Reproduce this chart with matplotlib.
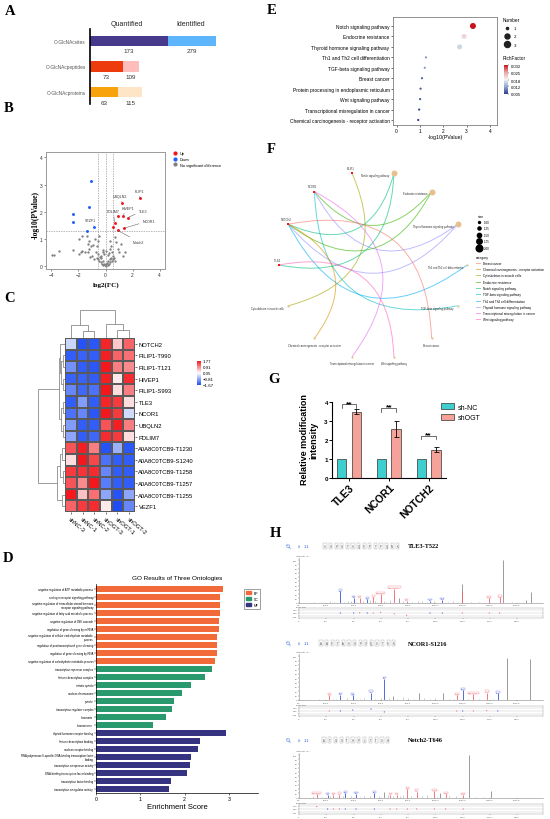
import numpy as np
import matplotlib.pyplot as plt
from matplotlib.colors import LinearSegmentedColormap, Normalize
from matplotlib.cm import ScalarMappable
from matplotlib.lines import Line2D
from matplotlib.patches import Patch, PathPatch
from matplotlib.path import Path
from matplotlib.ticker import FuncFormatter

plt.rcParams['font.family'] = ['Liberation Sans', 'DejaVu Sans']
plt.rcParams['axes.linewidth'] = 0.5
SERIF = ['Liberation Serif', 'DejaVu Serif']

W, H = 550, 820
fig = plt.figure(figsize=(W / 100, H / 100), dpi=100)


def ax_px(x0, y0, x1, y1):
    # axes from pixel box (top-left origin)
    return fig.add_axes([x0 / W, 1 - y1 / H, (x1 - x0) / W, (y1 - y0) / H])


def fx(x):
    return x / W


def fy(y):
    return 1 - y / H


# ---------------- data ----------------
# A
a_cats = ['O-GlcNAcsites', 'O-GlcNAcpeptides', 'O-GlcNAcproteins']
a_quant = [173, 73, 63]
a_ident = [279, 109, 115]

# B volcano
b_up_x = [2.54, 1.23, 0.94, 1.26, 1.63, 0.67, 0.57, 1.38, 0.89]
b_up_y = [2.52, 2.32, 1.83, 1.86, 1.79, 1.58, 1.43, 1.40, 1.32]
b_down_x = [-1.09, -1.21, -2.37, -2.42, -0.86, -1.38]
b_down_y = [3.14, 2.19, 1.92, 1.64, 1.45, 1.30]
b_ns_x = [-3.95, -3.78, -3.46, -2.37, -1.98, -1.73, -1.38, -1.93, -1.80, -1.48,
          -1.19, -1.04, -1.14, -0.99, -0.84, -0.69, -0.54, -0.64, -0.57, -0.49,
          -0.32, -0.20, 0.30, 0.42, 0.47, 0.54, 0.67, 0.79, 0.91, 0.99,
          1.16, 1.33, 1.41, -0.94, -1.31, -1.23, -0.81, -1.73, -1.31,
          -0.45, -0.35, -0.25, -0.15, -0.05, 0.05, 0.15, 0.25, 0.35, 0.45,
          0.55, -0.55, 0.10, -0.10, 0.20, -0.20, 0.30, -0.30, 0.00, 0.40,
          -0.40, 0.60, 0.70, -0.65, -0.10, 0.05, 0.15, 0.25, -0.20, 0.30]
b_ns_y = [0.43, 0.43, 0.57, 0.58, 1.00, 1.12, 1.12, 0.45, 0.51, 0.51,
          0.63, 0.73, 0.33, 0.39, 0.27, 0.51, 0.45, 0.75, 0.94, 1.12,
          0.39, 0.51, 0.94, 0.75, 0.51, 0.39, 1.06, 0.88, 0.63, 0.51,
          0.82, 0.39, 0.51, 0.80, 0.81, 0.94, 1.00, 0.57, 0.51,
          0.20, 0.15, 0.10, 0.06, 0.03, 0.02, 0.05, 0.09, 0.14, 0.20,
          0.25, 0.25, 0.12, 0.10, 0.18, 0.20, 0.28, 0.30, 0.08, 0.32,
          0.35, 0.30, 0.20, 0.30, 0.45, 0.55, 0.40, 0.50, 0.60, 0.65]
b_labels = ['FLIP1', 'UBQLN2', 'HIVEP1', 'PDLIM7', 'TLE3', 'NCOR1', 'Notch2', 'VEZF1']
b_lab_pt = [(2.54, 2.52), (1.23, 2.32), (1.26, 1.86), (0.67, 1.58),
            (1.63, 1.79), (1.38, 1.40), (0.89, 1.32), (-0.86, 1.45)]
b_lab_txt = [(2.53, 2.77), (1.09, 2.59), (1.68, 2.14), (0.59, 2.03),
             (2.77, 2.03), (3.19, 1.67), (2.47, 0.90), (-1.13, 1.70)]

# C heatmap
c_rows = ['NOTCH2', 'FILIP1-T990', 'FILIP1-T121', 'HIVEP1', 'FILIP1-S993', 'TLE3',
          'NCOR1', 'UBQLN2', 'PDLIM7', 'A0A8C0TCB9-T1230', 'A0A8C0TCB9-S1240',
          'A0A8C0TCB9-T1258', 'A0A8C0TCB9-T1257', 'A0A8C0TCB9-T1255', 'VEZF1']
c_cols = ['shNC-3', 'shNC-1', 'shNC-2', 'shOGT-3', 'shOGT-1', 'shOGT-2']
c_vals = np.array([
    [-0.35, -1.60, -1.55, 1.65, 0.45, 1.20],
    [-1.50, -1.45, -1.50, 1.70, 1.20, 1.10],
    [-1.00, -1.50, -1.55, 1.75, 1.00, 0.90],
    [-1.45, -1.45, -1.50, 1.70, 0.20, 1.60],
    [-1.10, -1.40, -1.30, 1.77, 0.30, 1.00],
    [-1.50, -0.90, -1.50, 1.65, 1.50, 0.30],
    [-1.30, -1.10, -1.55, 1.75, 1.50, -0.30],
    [-0.90, -1.50, -1.50, 1.30, 1.70, 1.00],
    [-0.80, -1.50, -1.40, 1.60, 1.50, 0.30],
    [1.30, 1.70, 1.00, -1.60, -0.70, -1.55],
    [0.30, 1.75, 1.40, -1.30, -1.50, -1.50],
    [1.50, 1.55, 1.60, -1.10, -1.50, -1.50],
    [1.30, 0.90, 1.75, -1.20, -1.50, -1.50],
    [1.75, 0.50, 1.10, -0.80, -1.60, -0.80],
    [1.20, 1.50, 1.60, 0.20, -1.65, -1.10]])
# linkage: (a, b, height), new ids follow leaves
c_row_link = [(1, 2, 0.35), (3, 4, 0.45), (15, 16, 0.65), (0, 17, 0.95),
              (5, 6, 0.30), (7, 8, 0.45), (19, 20, 0.70), (18, 21, 1.20),
              (11, 12, 0.45), (9, 10, 0.60), (24, 23, 0.90), (13, 14, 0.55),
              (25, 26, 1.45), (22, 27, 5.0)]
c_col_link = [(1, 2, 0.8), (0, 6, 1.35), (4, 5, 0.9), (3, 8, 1.45), (7, 9, 3.0)]

# D GO
go_terms = ['negative regulation of ATP metabolic process',
            'androgen receptor signaling pathway',
            'negative regulation of intracellular steroid hormone\nreceptor signaling pathway',
            'negative regulation of fatty acid metabolic process',
            'negative regulation of JNK cascade',
            'regulation of gene silencing by miRNA',
            'negative regulation of cellular carbohydrate metabolic\nprocess',
            'regulation of posttranscriptional gene silencing',
            'regulation of gene silencing by RNA',
            'negative regulation of carbohydrate metabolic process',
            'transcription repressor complex',
            'histone deacetylase complex',
            'mitotic spindle',
            'nuclear chromosome',
            'spindle',
            'transcription regulator complex',
            'chromatin',
            'chromosome',
            'thyroid hormone receptor binding',
            'histone deacetylase binding',
            'nuclear receptor binding',
            'RNA polymerase II-specific DNA-binding transcription factor\nbinding',
            'transcription corepressor activity',
            'DNA-binding transcription factor binding',
            'transcription factor binding',
            'transcription coregulator activity']
go_scores = [2.87, 2.80, 2.80, 2.80, 2.77, 2.77, 2.74, 2.74, 2.74, 2.69,
             2.63, 2.47, 2.14, 1.95, 1.77, 1.71, 1.59, 1.29,
             2.93, 2.36, 2.31, 2.15, 2.12, 2.05, 1.70, 1.65]
go_groups = ['BP'] * 10 + ['CC'] * 8 + ['MF'] * 8

# E KEGG dots
e_terms = ['Notch signaling pathway', 'Endocrine resistance',
           'Thyroid hormone signaling pathway', 'Th1 and Th2 cell differentiation',
           'TGF-beta signaling pathway', 'Breast cancer',
           'Protein processing in endoplasmic reticulum', 'Wnt signaling pathway',
           'Transcriptional misregulation in cancer',
           'Chemical carcinogenesis - receptor activation']
e_logp = [3.27, 2.89, 2.70, 1.26, 1.21, 1.09, 1.03, 1.01, 0.97, 0.93]
e_number = [3, 2, 2, 1, 1, 1, 1, 1, 1, 1]
e_rich = [0.032, 0.021, 0.016, 0.011, 0.011, 0.0075, 0.0065, 0.0065, 0.0055, 0.005]

# F network
f_nodes = ['Th1 and Th2 cell differentiation', 'Thyroid hormone signaling pathway',
           'Endocrine resistance', 'Notch signaling pathway', 'FILIP1', 'NCOR1',
           'NOTCH2', 'TLE3', 'Cytoskeleton in muscle cells',
           'Chemical carcinogenesis - receptor activation',
           'Transcriptional misregulation in cancer', 'Wnt signaling pathway',
           'Breast cancer', 'TGF-beta signaling pathway']
f_genes = ['FILIP1', 'NCOR1', 'NOTCH2', 'TLE3']
f_edges = [('FILIP1', 'Cytoskeleton in muscle cells'),
           ('NCOR1', 'Endocrine resistance'),
           ('NCOR1', 'Thyroid hormone signaling pathway'),
           ('NCOR1', 'TGF-beta signaling pathway'),
           ('NCOR1', 'Transcriptional misregulation in cancer'),
           ('NOTCH2', 'Notch signaling pathway'),
           ('NOTCH2', 'Endocrine resistance'),
           ('NOTCH2', 'Thyroid hormone signaling pathway'),
           ('NOTCH2', 'Th1 and Th2 cell differentiation'),
           ('NOTCH2', 'Breast cancer'),
           ('NOTCH2', 'Chemical carcinogenesis - receptor activation'),
           ('TLE3', 'Notch signaling pathway'),
           ('TLE3', 'Wnt signaling pathway')]
f_categories = ['Breast cancer', 'Chemical carcinogenesis - receptor activation',
                'Cytoskeleton in muscle cells', 'Endocrine resistance',
                'Notch signaling pathway', 'TGF-beta signaling pathway',
                'Th1 and Th2 cell differentiation', 'Thyroid hormone signaling pathway',
                'Transcriptional misregulation in cancer', 'Wnt signaling pathway']
f_cat_colors = ['#F8766D', '#D89000', '#A3A500', '#39B600', '#00BF7D',
                '#00BFC4', '#00B0F6', '#9590FF', '#E76BF3', '#FF62BC']
f_size_levels = [1.00, 1.25, 1.50, 1.75, 2.00]

# G bars
g_genes = ['TLE3', 'NCOR1', 'NOTCH2']
g_nc = [1.0, 1.0, 1.0]
g_ogt = [3.49, 2.58, 1.49]
g_ogt_err = [0.13, 0.40, 0.13]
g_sig_y = [3.87, 3.68, 2.23]

# H spectra
h_titles = ['TLE3-T522', 'NCOR1-S1216', 'Notch2-T646']
h_seqs = ['SSPSTSQVPTPQNK', 'AAVTASSPVQSTSK', 'ATGSTHPLTTSH']
h1_mz = [303, 401, 445, 501, 545, 599, 699, 736, 790, 961, 1051, 1194, 1198, 1396, 1472, 1499, 1665, 1704]
h1_int = [26, 11, 11, 8, 12, 20, 33, 11, 4, 4, 6, 43, 26, 10, 12, 100, 6, 25]
h1_kind = ['b', 'b', 'y', 'b', 'y', 'y', 'y', 'n', 'y', 'b', 'b', 'n', 'y', 'y', 'y', 'n', 'n', 'n']
h1_ion = ['b3', 'b4', 'y3', 'b5', 'y4', '[y5-H2O]', '[y12-H2O]2+', '', 'y6', 'b9', 'b10', '', '', 'y12', 'y13', '', '', '']
h1_err = [0.0, 0.0, 0.01, 0.0, 0.0, 0.02, -0.03, np.nan, -0.07, 0.0, 0.0, np.nan, 0.0, 0.0, 0.0, np.nan, np.nan, np.nan]
h1_noise_mz = [110, 160, 230, 260, 330, 360, 380, 420, 470, 520, 560, 620, 640, 670, 760,
               830, 870, 900, 940, 990, 1090, 1130, 1260, 1320, 1560]
h1_noise_int = [2, 1, 3, 2, 2, 4, 3, 2, 3, 5, 3, 4, 2, 6, 3, 2, 3, 4, 2, 3, 2, 3, 2, 2, 1]

h2_mz = [222, 303, 394, 528, 626, 687, 883, 1058, 1157, 1201, 1279, 1377, 1458, 1524, 1695]
h2_int = [11, 12, 11, 17, 48, 8, 15, 15, 11, 22, 13, 17, 15, 96, 93]
h2_kind = ['y', 'b', 'b', 'b', 'b', 'n', 'n', 'n', 'y', 'b', 'y', 'y', 'b', 'n', 'n']
h2_ion = ['y2', 'b3', 'b4', 'b5', 'b6', '', '', '', 'y10', 'b12', '[y11-H2O]', 'y12', 'b14', '', '']
h2_err = [0.0, 0.0, 0.03, 0.06, -0.03, np.nan, np.nan, np.nan, 0.0, 0.0, 0.0, 0.01, 0.0, np.nan, np.nan]
h2_noise_mz = [150, 250, 270, 350, 420, 450, 480, 560, 600, 660, 720, 760, 800, 840, 920,
               960, 1000, 1100, 1140, 1240, 1320, 1420]
h2_noise_int = [2, 3, 2, 4, 3, 2, 4, 3, 5, 4, 3, 6, 4, 3, 5, 2, 4, 3, 2, 3, 2, 2]

h3_mz = [130, 210, 252, 296, 340, 418, 553, 626, 668, 717, 795, 863, 993, 1034, 1076, 1205, 1249, 1408]
h3_int = [8, 6, 6, 7, 10, 9, 10, 12, 6, 6, 20, 14, 15, 10, 8, 6, 100, 15]
h3_kind = ['y', 'b', 'y', 'y', 'b', 'b', 'b', 'n', 'y', 'y', 'y', 'y', 'y', 'n', 'y', 'y', 'n', 'n']
h3_ion = ['[y1-H2O]', 'b2', 'y2', 'y3', 'b3', 'b4', 'b6', '', 'y6', 'y7', 'y8', 'y9', 'y10', '', 'y11', 'y12', '', '']
h3_err = [0.08, 0.0, 0.0, 0.0, 0.0, 0.0, 0.0, np.nan, 0.0, 0.0, 0.0, 0.0, 0.0, np.nan, 0.0, 0.0, np.nan, np.nan]
h3_noise_mz = [100, 170, 230, 280, 320, 380, 450, 480, 520, 590, 650, 690, 740, 760, 820,
               900, 940, 1010, 1100, 1150, 1300, 1360]
h3_noise_int = [3, 2, 3, 2, 3, 4, 2, 3, 4, 3, 5, 4, 3, 6, 4, 3, 5, 2, 3, 4, 2, 2]

# ---------------- panel letters ----------------
for lab, (lx, ly) in {'A': (5, 15), 'B': (4, 112), 'C': (4, 302), 'D': (3, 562),
                      'E': (267, 14), 'F': (267, 153), 'G': (268, 383), 'H': (270, 537)}.items():
    fig.text(fx(lx), fy(ly), lab, family=SERIF, weight='bold', fontsize=10.5, va='baseline')

# ---------------- A ----------------
a_col_q = ['#47398b', '#ee3b0d', '#f8a20e']
a_col_i = ['#5db5fb', '#fdbdbd', '#fde5c5']
axA = ax_px(90, 30, 260, 105)
for i in range(3):
    q, t = a_quant[i], a_ident[i]
    axA.barh(i, q, height=0.39, color=a_col_q[i])
    axA.barh(i, t - q, left=q, height=0.39, color=a_col_i[i])
    axA.text(q / 2, i + 0.40, str(q), ha='center', va='center', fontsize=4.5, color='#333')
    axA.text((q + t) / 2, i + 0.40, str(t), ha='center', va='center', fontsize=4.5, color='#333')
axA.set_xlim(0, 279 * 170 / 126)
axA.set_ylim(2.45, -0.45)
axA.set_yticks(range(3))
axA.set_yticklabels(a_cats, fontsize=3.4, color='#555')
axA.tick_params(axis='y', length=0, pad=3)
axA.set_xticks([])
for s in ['top', 'right', 'bottom']:
    axA.spines[s].set_visible(False)
axA.spines['left'].set_linewidth(1.2)
fig.text(fx(127), fy(24), 'Quantified', ha='center', va='center', fontsize=5, color='#222')
fig.text(fx(191), fy(24), 'Identified', ha='center', va='center', fontsize=5, color='#222')

# ---------------- B ----------------
axB = ax_px(46, 153, 165, 270)
axB.scatter(b_ns_x, b_ns_y, s=2.8, color='#808080', linewidths=0, zorder=2)
axB.scatter(b_up_x, b_up_y, s=4.5, color='#ee1520', linewidths=0, zorder=3)
axB.scatter(b_down_x, b_down_y, s=4.5, color='#1f5cff', linewidths=0, zorder=3)
for xv in [-0.58, 0, 0.58]:
    axB.axvline(xv, color='#9a9a9a', lw=0.5, ls=(0, (2, 1.5)), zorder=1)
axB.axhline(1.3, color='#9a9a9a', lw=0.5, ls=(0, (2, 1.5)), zorder=1)
for lab, pt, tp in zip(b_labels, b_lab_pt, b_lab_txt):
    axB.annotate(lab, xy=pt, xytext=tp, fontsize=2.6, ha='center', va='center', color='#333',
                 arrowprops=dict(arrowstyle='-', color='#555', lw=0.35, shrinkA=0.5, shrinkB=1))
axB.set_xlim(-4.4, 4.4)
axB.set_ylim(-0.1, 4.2)
axB.set_xticks([-4, -2, 0, 2, 4])
axB.set_yticks([0, 1, 2, 3, 4])
axB.tick_params(labelsize=3.5, length=1.5, width=0.4, pad=1, colors='#333')
for sp in axB.spines.values():
    sp.set_color('#9a9a9a')
    sp.set_linewidth(0.7)
b_handles = [Line2D([], [], marker='o', ls='', ms=2, color=c) for c in ['#ee1520', '#1f5cff', '#808080']]
axB.legend(b_handles, ['Up', 'Down', 'No significant difference'], loc='upper left',
           bbox_to_anchor=(fx(169), fy(150)), bbox_transform=fig.transFigure, frameon=False,
           fontsize=2.8, handletextpad=0.2, labelspacing=0.5, borderpad=0)
fig.text(fx(106), fy(285), 'log2(FC)', family=SERIF, weight='bold', fontsize=5, ha='center', va='center')
fig.text(fx(36), fy(215), '-log10(PValue)', family=SERIF, weight='bold', fontsize=5.5,
         ha='center', va='center', rotation=90)

# ---------------- C ----------------
heat_cmap = LinearSegmentedColormap.from_list('bwr_', ['#1d4cf5', '#ffffff', '#f3161b'])
axC = ax_px(65, 339, 135, 513)
mesh = axC.pcolormesh(c_vals, cmap=heat_cmap, vmin=-1.67, vmax=1.77,
                      edgecolors='#5a5a5a', linewidth=0.3)
axC.set_xlim(0, 6)
axC.set_ylim(15, 0)
axC.yaxis.tick_right()
axC.set_yticks(np.arange(15) + 0.5)
axC.set_yticklabels(c_rows, fontsize=4.2)
axC.set_xticks(np.arange(6) + 0.5)
axC.set_xticklabels(c_cols, fontsize=4.2, rotation=-40, ha='left', va='top', rotation_mode='anchor')
axC.tick_params(length=1.5, width=0.4, pad=1)
for sp in axC.spines.values():
    sp.set_visible(False)


def draw_dendro(ax, links, n, horizontal):
    pos = list(np.arange(n) + 0.5)
    hts = [0.0] * n
    for a, b, h in links:
        if horizontal:
            ax.plot([hts[a], h, h, hts[b]], [pos[a], pos[a], pos[b], pos[b]], color='#8c8c8c', lw=0.6)
        else:
            ax.plot([pos[a], pos[a], pos[b], pos[b]], [hts[a], h, h, hts[b]], color='#8c8c8c', lw=0.6)
        pos.append((pos[a] + pos[b]) / 2)
        hts.append(h)


axCr = ax_px(38, 339, 65, 513)
draw_dendro(axCr, c_row_link, 15, True)
axCr.set_xlim(5.0, 0)
axCr.set_ylim(15, 0)
axCr.axis('off')
axCc = ax_px(65, 311, 135, 339)
draw_dendro(axCc, c_col_link, 6, False)
axCc.set_xlim(0, 6)
axCc.set_ylim(0, 3.0)
axCc.axis('off')
caxC = ax_px(197, 362, 201, 386)
cbC = fig.colorbar(mesh, cax=caxC, ticks=[1.77, 0.91, 0.05, -0.81, -1.67])
cbC.outline.set_visible(False)
caxC.tick_params(labelsize=3.2, length=0, pad=1.5)

# ---------------- D ----------------
go_colors = {'BP': '#f2693a', 'CC': '#2a9a6e', 'MF': '#363480'}
axD = ax_px(96, 585, 258, 794)
ypos = np.arange(len(go_terms))
axD.barh(ypos, go_scores, height=0.8, color=[go_colors[g] for g in go_groups])
axD.set_ylim(25.5, -0.625)
axD.set_xlim(0, 3.66)
axD.set_yticks(ypos)
axD.set_yticklabels(go_terms, fontsize=2.0, linespacing=0.9)
axD.tick_params(axis='y', length=1.2, width=0.3, pad=0.8)
axD.set_xticks([0, 1, 2, 3])
axD.tick_params(axis='x', labelsize=3.8, length=1.5, width=0.4, pad=1)
for s in ['top', 'right']:
    axD.spines[s].set_visible(False)
fig.text(fx(177), fy(808), 'Enrichment Score', fontsize=5.5, ha='center', va='center')
fig.text(fx(177), fy(579), 'GO Results of Three Ontologies', fontsize=4.6, ha='center', va='center')
fig.legend([Patch(color=go_colors[k]) for k in ['BP', 'CC', 'MF']], ['BP', 'CC', 'MF'],
           loc='upper left', bbox_to_anchor=(fx(242), fy(588)), fontsize=2.4, frameon=True,
           fancybox=False, edgecolor='#555', framealpha=1, borderpad=0.6,
           handlelength=1.6, handleheight=1.0, labelspacing=0.6).get_frame().set_linewidth(0.4)

# ---------------- E ----------------
e_cmap = LinearSegmentedColormap.from_list('rb_', ['#283d8f', '#8fa6cc', '#f2f2f2', '#eaa3a6', '#c8141c'])
e_norm = Normalize(0.005, 0.032)
E_SIZE = [2.5, 13, 19]
axE = ax_px(393, 18, 497, 126)
axE.scatter(e_logp, range(len(e_terms)), s=[E_SIZE[n - 1] for n in e_number], c=e_rich,
            cmap=e_cmap, norm=e_norm, linewidths=0, zorder=3)
axE.set_ylim(9.48, -0.86)
axE.set_xlim(-0.15, 4.3)
axE.set_yticks(range(len(e_terms)))
axE.set_yticklabels(e_terms, fontsize=3.2)
axE.set_xticks(range(5))
axE.tick_params(labelsize=3.5, length=1.5, width=0.4, pad=1)
for sp in axE.spines.values():
    sp.set_color('#7f7f7f')
    sp.set_linewidth(0.6)
fig.text(fx(445), fy(138), '-log10(PValue)', fontsize=3.8, ha='center', va='center')
fig.legend([Line2D([], [], marker='o', ls='', color='#222', ms=np.sqrt(s)) for s in E_SIZE],
           ['1', '2', '3'], title='Number', loc='upper left', bbox_to_anchor=(fx(500), fy(16)),
           frameon=False, fontsize=3.2, title_fontsize=3.4, labelspacing=0.9,
           handletextpad=0.6, alignment='left', borderpad=0)
fig.text(fx(503), fy(58), 'RichFactor', fontsize=3.4, va='center')
caxE = ax_px(504, 66, 508, 95)
cbE = fig.colorbar(ScalarMappable(norm=e_norm, cmap=e_cmap), cax=caxE,
                   ticks=[0.005, 0.012, 0.018, 0.025, 0.032])
cbE.outline.set_visible(False)
cbE.ax.set_yticklabels(['0.005', '0.012', '0.018', '0.025', '0.032'])
caxE.tick_params(labelsize=3.0, length=1, width=0.3, pad=1)

# ---------------- F ----------------
axF = ax_px(271, 164, 475, 368)
axF.set_xlim(-1.085, 1.085)
axF.set_ylim(-1.085, 1.085)
axF.axis('off')
ang = 2 * np.pi * np.arange(len(f_nodes)) / len(f_nodes)
f_pos = {nm: np.array([np.cos(a), np.sin(a)]) for nm, a in zip(f_nodes, ang)}
cat_color = dict(zip(f_categories, f_cat_colors))
for g, p in f_edges:
    p0, p2 = f_pos[g], f_pos[p]
    mid = (p0 + p2) / 2
    d = p2 - p0
    L = np.hypot(*d)
    nrm = np.array([-d[1], d[0]]) / L
    if np.dot(nrm, -mid) < 0:
        nrm = -nrm
    ctrl = mid + 0.58 * L * nrm
    path = Path([p0, ctrl, p2], [Path.MOVETO, Path.CURVE3, Path.CURVE3])
    axF.add_patch(PathPatch(path, fc='none', ec=cat_color[p], lw=0.7, alpha=0.6))
f_count = {nm: sum(1 for e in f_edges if e[1] == nm) for nm in f_nodes if nm not in f_genes}
for nm, (x, y) in f_pos.items():
    if nm in f_genes:
        axF.scatter([x], [y], marker='s', s=3.5, color='#ff1010', linewidths=0, zorder=4)
        axF.text(x - 0.02, y + 0.035, nm, fontsize=1.9, ha='center', va='bottom', color='#333')
    else:
        sz = f_count[nm]
        axF.scatter([x], [y], s=2.5 + 16 * (sz - 1), color='#e6c08d', linewidths=0, zorder=4)
        if y < -0.5:
            axF.text(x, y - 0.05, nm, fontsize=1.9, ha='center', va='top', color='#333')
        else:
            axF.text(x - 0.045, y - 0.02, nm, fontsize=1.9, ha='right', va='center', color='#333')
fig.legend([Line2D([], [], marker='o', ls='', color='black', ms=1.4 + 3.4 * (v - 1)) for v in f_size_levels],
           ['%.2f' % v for v in f_size_levels], title='size', loc='upper left',
           bbox_to_anchor=(fx(476), fy(213)), frameon=False, fontsize=2.2, title_fontsize=2.4,
           labelspacing=0.8, handletextpad=0.8, handlelength=1.2, alignment='left', borderpad=0)
fig.legend([Line2D([], [], color=c, lw=0.7, alpha=0.6) for c in f_cat_colors], f_categories,
           title='category', loc='upper left', bbox_to_anchor=(fx(474), fy(254)), frameon=False,
           fontsize=2.2, title_fontsize=2.4, labelspacing=0.75, handletextpad=0.8,
           handlelength=1.5, alignment='left', borderpad=0)

# ---------------- G ----------------
axG = ax_px(332, 403, 446, 479)
xg = np.arange(len(g_genes))
axG.bar(xg - 0.185, g_nc, width=0.235, color='#40cfcf', edgecolor='#333', linewidth=0.5, label='sh-NC')
axG.bar(xg + 0.185, g_ogt, width=0.235, color='#f5a29b', edgecolor='#333', linewidth=0.5,
        yerr=g_ogt_err, capsize=1.8, error_kw=dict(lw=0.6, capthick=0.6), label='shOGT')
for x, y in zip(xg, g_sig_y):
    axG.plot([x - 0.185, x - 0.185, x + 0.185, x + 0.185], [y - 0.18, y, y, y - 0.18],
             color='#333', lw=0.5, clip_on=False)
    axG.text(x, y - 0.12, '**', ha='center', va='bottom', fontsize=6, weight='bold', clip_on=False)
axG.set_ylim(0, 4)
axG.set_xlim(-0.43, 2.44)
axG.set_yticks([0, 1, 2, 3, 4])
axG.set_xticks(xg)
axG.set_xticklabels(g_genes, fontsize=7.5, weight='bold', rotation=45, ha='right', rotation_mode='anchor')
axG.tick_params(axis='y', labelsize=4.5, length=2, width=0.7, pad=1)
axG.tick_params(axis='x', length=2, width=0.7, pad=1)
for lbl in axG.get_yticklabels():
    lbl.set_fontweight('bold')
for s in ['top', 'right']:
    axG.spines[s].set_visible(False)
for s in ['left', 'bottom']:
    axG.spines[s].set_linewidth(0.8)
fig.text(fx(309), fy(440), 'Relative modification\nintensity', rotation=90, ha='center', va='center',
         fontsize=6.5, weight='bold', linespacing=1.0)
axG.legend(loc='upper left', bbox_to_anchor=(fx(438), fy(401)), bbox_transform=fig.transFigure,
           fontsize=5, frameon=False, handlelength=1.8, handleheight=0.9, labelspacing=0.5,
           handletextpad=0.6, borderpad=0)

# ---------------- H ----------------
ion_color = {'b': '#3b52d9', 'y': '#f0606a', 'n': '#9a9a9a'}


def spectrum(top, seq_x0, seq_dx, title, seq, mz, inten, kind, ion, err, nmz, nint, sp_box, er_box):
    fig.text(fx(289), fy(top), '\u26b2', color='#2f5fd0', fontsize=4, ha='center', va='center', rotation=45)
    fig.text(fx(298), fy(top), '#', color='#2f5fd0', fontsize=3, va='center')
    fig.text(fx(304), fy(top), '1:1', color='#2f5fd0', fontsize=3, va='center')
    for j, ch in enumerate(seq):
        fig.text(fx(seq_x0 + j * seq_dx), fy(top), ch, fontsize=2.0, ha='center', va='center', color='#444',
                 bbox=dict(boxstyle='square,pad=0.25', fc='white', ec='#999', lw=0.25))
    fig.text(fx(408), fy(top), title, family=SERIF, weight='bold', fontsize=4.5, va='center')

    ax = ax_px(*sp_box)
    ax.vlines(nmz, 0, nint, color='#a5a5a5', lw=0.4)
    gray = [k == 'n' for k in kind]
    ax.vlines([m for m, g in zip(mz, gray) if g], 0, [v for v, g in zip(inten, gray) if g],
              color='#8c8c8c', lw=0.6)
    for m, v, k, lab in zip(mz, inten, kind, ion):
        if k == 'n':
            continue
        ax.vlines(m, 0, v, color=ion_color[k], lw=0.6)
        if lab:
            ax.text(m, v + 2, lab, fontsize=1.6, color=ion_color[k], ha='center', va='bottom',
                    bbox=dict(boxstyle='square,pad=0.15', fc='white', ec=ion_color[k], lw=0.2))
    ax.set_xlim(0, 1790)
    ax.set_ylim(0, 105)
    ax.set_yticks(range(0, 101, 10))
    ax.set_xticks(range(0, 1790, 200))
    ax.xaxis.set_major_formatter(FuncFormatter(lambda v, p: '%.1f' % v))
    ax.tick_params(labelsize=1.7, length=0.8, width=0.3, pad=0.5, colors='#555')
    for s in ['top', 'right']:
        ax.spines[s].set_visible(False)
    for s in ['left', 'bottom']:
        ax.spines[s].set_color('#888')
        ax.spines[s].set_linewidth(0.4)
    fig.text(fx(sp_box[0] - 3), fy(sp_box[1] - 2), 'Intensity (%)', fontsize=1.7, color='#555', va='bottom')

    ae = ax_px(*er_box)
    for yl in [-0.1, 0, 0.1]:
        ae.axhline(yl, color='#c4c4c4', lw=0.3)
    ex = [m for m, k in zip(mz, kind) if k != 'n']
    ey = [e for e, k in zip(err, kind) if k != 'n']
    ec = [ion_color[k] for k in kind if k != 'n']
    ae.scatter(ex, ey, s=0.7, c=ec, linewidths=0, zorder=3)
    ae.set_xlim(0, 1790)
    ae.set_ylim(-0.16, 0.16)
    ae.set_yticks([-0.1, 0, 0.1])
    ae.set_xticks(range(0, 1790, 200))
    ae.xaxis.set_major_formatter(FuncFormatter(lambda v, p: '{:,.0f}'.format(v)))
    ae.yaxis.set_major_formatter(FuncFormatter(lambda v, p: '%.2f' % v))
    ae.tick_params(labelsize=1.6, length=0.8, width=0.3, pad=0.5, colors='#555')
    for s in ae.spines.values():
        s.set_color('#999')
        s.set_linewidth(0.3)
    fig.text(fx(er_box[0] - 3), fy(er_box[1] - 1), 'Error (Da)', fontsize=1.6, color='#555', va='bottom')


spectrum(547, 325, 5.6, h_titles[0], h_seqs[0], h1_mz, h1_int, h1_kind, h1_ion, h1_err,
         h1_noise_mz, h1_noise_int, (299, 559, 543, 603.5), (299, 609, 543, 619))
spectrum(644, 321, 5.6, h_titles[1], h_seqs[1], h2_mz, h2_int, h2_kind, h2_ion, h2_err,
         h2_noise_mz, h2_noise_int, (299, 655, 543, 701), (299, 707, 543, 717))
spectrum(741, 324, 5.8, h_titles[2], h_seqs[2], h3_mz, h3_int, h3_kind, h3_ion, h3_err,
         h3_noise_mz, h3_noise_int, (299, 754, 543, 798.5), (299, 805, 543, 815))

fig.savefig('out.png', dpi=100)
